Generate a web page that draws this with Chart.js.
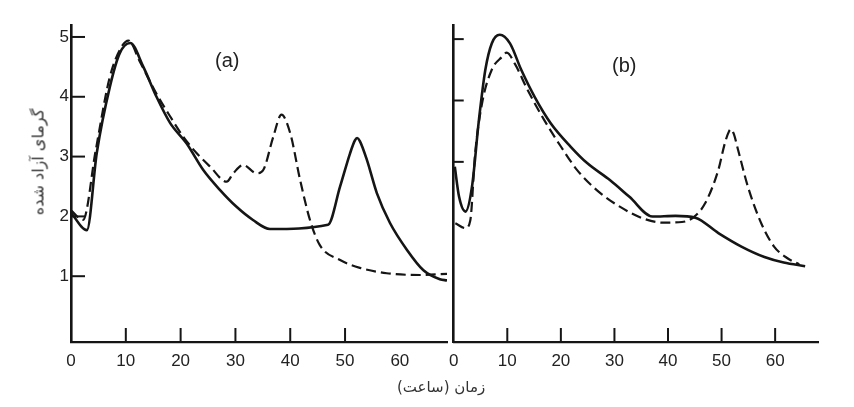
<!DOCTYPE html>
<html>
<head>
<meta charset="utf-8">
<script src="https://cdn.jsdelivr.net/npm/chart.js@4.4.1/dist/chart.umd.min.js"></script>
<style>
  html, body { margin:0; padding:0; background:#fff; }
  #wrap { position:relative; width:854px; height:407px; overflow:hidden; background:#fff; }
  canvas { position:absolute; top:0; }
  #ca { left:0; }
  #cb { left:440px; }
  .lbl { position:absolute; font-family:"Liberation Sans", Arial, sans-serif; color:#222; white-space:nowrap; }
  .fa { position:absolute; font-family:"DejaVu Sans", sans-serif; color:#333; white-space:nowrap; direction:rtl; }
</style>
</head>
<body>
<div id="wrap">
  <canvas id="ca" width="460" height="407"></canvas>
  <canvas id="cb" width="414" height="407"></canvas>
  <div class="lbl" style="left:215px; top:49px; font-size:20px;">(a)</div>
  <div class="lbl" style="left:612px; top:54px; font-size:20px;">(b)</div>
  <div class="fa" id="xt" style="left:397px; top:378px; font-size:15px;">زمان (ساعت)</div>
  <div class="fa" id="yt" style="left:38px; top:162px; font-size:16px; transform:translate(-50%,-50%) rotate(-90deg);">گرمای آزاد شده</div>
</div>
<script>
// ---- Data ----
const xTickLabels = [0, 10, 20, 30, 40, 50, 60];
const yTickLabels = [1, 2, 3, 4, 5];
const xMarksA = [10, 20, 30, 40, 50];
const xMarksB = [10, 20, 30, 40, 50, 60];
const yMarksA = [1, 2, 3, 4, 5];
const yMarksB = [3, 4, 5];

const aSolidX = [0, 2.9, 4.7, 7.1, 8.9, 10.8, 13.2, 15.6, 18.1, 21.1, 24.1, 27.2, 30.2, 33.2, 36.3, 46.9, 49.1, 50.9, 51.8, 52.2, 52.7, 54, 55.8, 58.2, 61.3, 64.3, 67.3, 68.6];
const aSolidY = [2.06, 1.77, 3.06, 4.17, 4.73, 4.9, 4.5, 4.0, 3.56, 3.22, 2.78, 2.44, 2.16, 1.94, 1.79, 1.86, 2.5, 3.05, 3.27, 3.31, 3.26, 2.94, 2.39, 1.89, 1.44, 1.1, 0.95, 0.93];

const aDashX = [0, 2.2, 4.5, 7, 9, 10.5, 12.5, 15.6, 18.1, 20.5, 22.9, 25.4, 28.4, 29.6, 31.4, 33.9, 35.1, 36.9, 38.4, 40, 41.8, 43.6, 45.4, 49.1, 52.7, 57.6, 63.7, 68.6];
const aDashY = [2.1, 1.94, 3.1, 4.3, 4.8, 4.94, 4.6, 4.05, 3.67, 3.33, 3.06, 2.83, 2.58, 2.72, 2.86, 2.72, 2.78, 3.33, 3.7, 3.39, 2.61, 1.94, 1.52, 1.27, 1.14, 1.05, 1.02, 1.04];

const bSolidX = [0.2, 1, 2.2, 3.4, 4.7, 5.9, 7.1, 8.6, 10.5, 12.6, 15.1, 18.1, 21.8, 24.9, 29.2, 32.8, 37.1, 41.4, 45.1, 49.4, 53.7, 58, 61.6, 65.6];
const bSolidY = [2.92, 2.43, 2.19, 2.59, 3.68, 4.5, 4.93, 5.07, 4.93, 4.5, 4.06, 3.63, 3.25, 2.98, 2.7, 2.43, 2.11, 2.12, 2.09, 1.84, 1.62, 1.45, 1.36, 1.3];

const bDashX = [0.3, 2.2, 3.1, 4, 5.3, 7.1, 9, 9.9, 11.4, 13.8, 16.9, 20, 23, 26.7, 31, 35.3, 39, 42.6, 44.8, 46.9, 49.4, 50.6, 51.4, 51.8, 52.3, 53.1, 54.9, 57.4, 59.8, 62.3, 64.5];
const bDashY = [2.0, 1.92, 2.05, 3.14, 3.96, 4.5, 4.71, 4.78, 4.6, 4.17, 3.68, 3.25, 2.87, 2.54, 2.27, 2.08, 2.01, 2.02, 2.1, 2.32, 2.87, 3.3, 3.5, 3.53, 3.45, 3.19, 2.6, 2.0, 1.62, 1.43, 1.33];

// ---- helpers ----
const INK = '#151515';
const pts = (xs, ys) => xs.map((x, i) => ({x, y: ys[i]}));

const innerTicks = {
  id: 'innerTicks',
  afterDraw(chart, args, o) {
    const {ctx, chartArea, scales} = chart;
    ctx.save();
    ctx.strokeStyle = INK;
    ctx.lineWidth = 2;
    o.xMarks.forEach(v => {
      const px = scales.x.getPixelForValue(v);
      ctx.beginPath(); ctx.moveTo(px, chartArea.bottom); ctx.lineTo(px, chartArea.bottom - o.xLen); ctx.stroke();
    });
    o.yMarks.forEach(v => {
      const py = scales.y.getPixelForValue(v);
      ctx.beginPath(); ctx.moveTo(chartArea.left, py); ctx.lineTo(chartArea.left + o.yLen, py); ctx.stroke();
    });
    ctx.restore();
  }
};

function makeChart(id, solid, dashed, cfg) {
  return new Chart(document.getElementById(id), {
    type: 'line',
    data: {
      datasets: [
        { data: solid, borderColor: INK, borderWidth: 2.6, pointRadius: 0, cubicInterpolationMode: 'monotone', fill: false },
        { data: dashed, borderColor: INK, borderWidth: 2.2, borderDash: [10, 5], pointRadius: 0, cubicInterpolationMode: 'monotone', fill: false }
      ]
    },
    options: {
      responsive: false,
      animation: false,
      events: [],
      layout: { padding: cfg.padding },
      plugins: {
        legend: { display: false },
        tooltip: { enabled: false },
        innerTicks: { xMarks: cfg.xMarks, yMarks: cfg.yMarks, xLen: 14, yLen: cfg.yLen }
      },
      scales: {
        x: {
          type: 'linear', min: 0, max: cfg.xMax,
          afterBuildTicks: s => { s.ticks = xTickLabels.map(v => ({value: v})); },
          afterFit: s => { s.height = 65; },
          grid: { drawOnChartArea: false, drawTicks: false },
          border: { display: true, color: INK, width: 2.2 },
          ticks: { color: '#222', padding: 9, font: { family: 'Liberation Sans', size: 17 }, maxRotation: 0, autoSkip: false }
        },
        y: {
          type: 'linear', min: cfg.yMin, max: cfg.yMax,
          afterBuildTicks: s => { s.ticks = yTickLabels.map(v => ({value: v})); },
          afterFit: s => { s.width = cfg.yWidth; },
          grid: { drawOnChartArea: false, drawTicks: false },
          border: { display: true, color: INK, width: 2.6 },
          ticks: { display: cfg.yLabels, color: '#222', padding: 2, font: { family: 'Liberation Sans', size: 17 } }
        }
      }
    },
    plugins: [innerTicks]
  });
}

makeChart('ca', pts(aSolidX, aSolidY), pts(aDashX, aDashY), {
  padding: { left: 0, right: 13, top: 25, bottom: 0 },
  xMax: 68.6, yMin: -0.1, yMax: 5.2, yWidth: 71, yLabels: true,
  xMarks: xMarksA, yMarks: yMarksA, yLen: 14
});
makeChart('cb', pts(bSolidX, bSolidY), pts(bDashX, bDashY), {
  padding: { left: 8, right: 36, top: 25, bottom: 0 },
  xMax: 68, yMin: 0.065, yMax: 5.23, yWidth: 0, yLabels: false,
  xMarks: xMarksB, yMarks: yMarksB, yLen: 10
});
</script>
</body>
</html>
